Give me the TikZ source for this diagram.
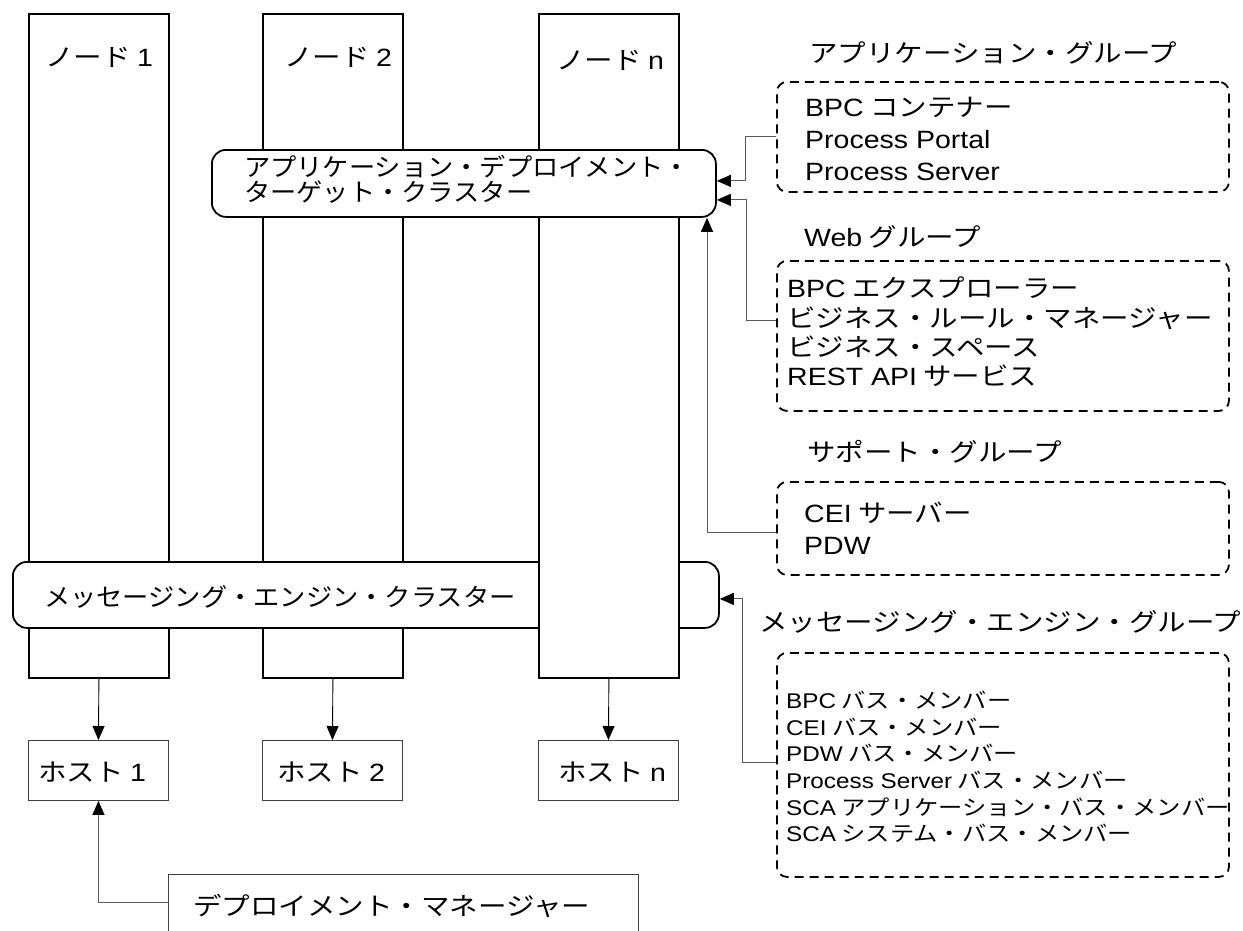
\documentclass[tikz,border=0pt]{standalone}
\usepackage{fontspec}
\setmainfont{Noto Sans CJK JP}[FakeStretch=1.14]
\newfontfamily\latfont{Liberation Sans}[FakeStretch=1.14]
\newfontfamily\jpcluster{Noto Sans CJK JP}[FakeStretch=1.05]
\newcommand{\latn}[1]{{\latfont #1}}
\newcommand{\bigjp}{\fontsize{25}{32}\selectfont}
\newcommand{\smalljp}{\fontsize{21.3}{26.7}\selectfont}
\usetikzlibrary{arrows.meta}
\tikzset{
  box/.style={draw=black, line width=1.8pt, fill=white, inner sep=0pt, anchor=north west},
  hostbox/.style={draw=black!75, line width=0.9pt, fill=white, inner sep=0pt, anchor=north west},
  cluster/.style={draw=black, line width=1.8pt, fill=white, rounded corners=14pt, inner sep=0pt, anchor=north west},
  group/.style={draw=black, line width=1.8pt, dash pattern=on 9pt off 6pt, rounded corners=10pt, inner sep=0pt, anchor=north west},
  txt/.style={inner sep=0pt, anchor=west, align=left, font=\bigjp},
  ctxt/.style={inner sep=0pt, anchor=west, align=left, font=\jpcluster\fontsize{25}{25}\selectfont},
  stxt/.style={inner sep=0pt, anchor=west, align=left, font=\smalljp},
  arr/.style={draw=black, line width=0.9pt, -{Triangle[length=14pt,width=12pt]}},
  garr/.style={draw=black!65, line width=1pt, -{Triangle[length=14pt,width=12pt,fill=black,color=black]}},
}
\begin{document}
\begin{tikzpicture}[x=1pt,y=-1pt]
\useasboundingbox (0,0) rectangle (1243,930);
\clip (0,0) rectangle (1243,930);
% nodes 1 and 2 (behind clusters)
\node[box, minimum width=140pt, minimum height=664pt] (n1) at (28,13) {};
\node[box, minimum width=140pt, minimum height=664pt] (n2) at (262,13) {};
% messaging engine cluster
\node[cluster, minimum width=706pt, minimum height=66pt] (mc) at (12,561) {};
% node n (in front of messaging cluster)
\node[box, minimum width=140pt, minimum height=664pt] (nn) at (538,13) {};
% application deployment target cluster (in front)
\node[cluster, minimum width=504pt, minimum height=67pt] (ac) at (211,149) {};
% labels
\node[txt] (n1t) at (45,57) {ノード \latn{1}};
\node[txt] (n2t) at (284,57) {ノード \latn{2}};
\node[txt] (nnt) at (556,60) {ノード \latn{n}};
\node[ctxt] (act) at (244,179) {アプリケーション・デプロイメント・\\ターゲット・クラスター};
\node[ctxt] (mct) at (44,597) {メッセージング・エンジン・クラスター};
% hosts
\node[hostbox, minimum width=140pt, minimum height=60pt] (h1) at (28,740) {};
\node[hostbox, minimum width=140pt, minimum height=60pt] (h2) at (262,740) {};
\node[hostbox, minimum width=140pt, minimum height=60pt] (hn) at (538,740) {};
\node[txt] (h1t) at (38,772) {ホスト \latn{1}};
\node[txt] (h2t) at (277,772) {ホスト \latn{2}};
\node[txt] (hnt) at (558,772) {ホスト \latn{n}};
% deployment manager
\node[hostbox, minimum width=470pt, minimum height=60pt] (dm) at (168,874) {};
\node[txt] (dmt) at (193,906) {デプロイメント・マネージャー};
% groups
\node[txt] (agl) at (809,53) {アプリケーション・グループ};
\node[group, minimum width=452pt, minimum height=110pt] (ag) at (776,81) {};
\node[txt, font=\fontsize{25}{32}\selectfont] (agt) at (805,139) {\latn{BPC} コンテナー\\\latn{Process Portal}\\\latn{Process Server}};
\node[txt] (wgl) at (804,237) {\latn{Web} グループ};
\node[group, minimum width=452pt, minimum height=150pt] (wg) at (776,260) {};
\node[txt, font=\fontsize{25}{29.4}\selectfont] (wgt) at (787,332) {\latn{BPC} エクスプローラー\\ビジネス・ルール・マネージャー\\ビジネス・スペース\\\latn{REST API} サービス};
\node[txt] (sgl) at (807,452) {サポート・グループ};
\node[group, minimum width=452pt, minimum height=93pt] (sg) at (776,481) {};
\node[txt] (sgt) at (804,528) {\latn{CEI} サーバー\\\latn{PDW}};
\node[txt] (mgl) at (759,622) {メッセージング・エンジン・グループ};
\node[group, minimum width=452pt, minimum height=224pt] (mg) at (776,652) {};
\node[stxt] (mgt) at (786,767) {\latn{BPC} バス・メンバー\\\latn{CEI} バス・メンバー\\\latn{PDW} バス・メンバー\\\latn{Process Server} バス・メンバー\\\latn{SCA} アプリケーション・バス・メンバー\\\latn{SCA} システム・バス・メンバー};
% connectors
\draw[arr] (n1.south) -- (h1.north);
\draw[arr] (n2.south) -- (h2.north);
\draw[arr] (nn.south) -- (hn.north);
\draw[garr] ([yshift=2pt]dm.west) -| (h1.south);
\coordinate (agb) at (745,136);
\coordinate (wgb) at (746,320);
\coordinate (sgb) at (707,532);
\coordinate (mgb) at (742,762);
\draw[garr] (agb -| ag.west) -- (agb) |- ([yshift=2.5pt]ac.east);
\draw[garr] (wgb -| wg.west) -- (wgb) |- ([yshift=-16.5pt]ac.east);
\draw[garr] (sgb -| sg.west) -- (sgb) -- (sgb |- ac.south);
\draw[garr] (mgb -| mg.west) -- (mgb) |- ([yshift=-4pt]mc.east);
\end{tikzpicture}
\end{document}
